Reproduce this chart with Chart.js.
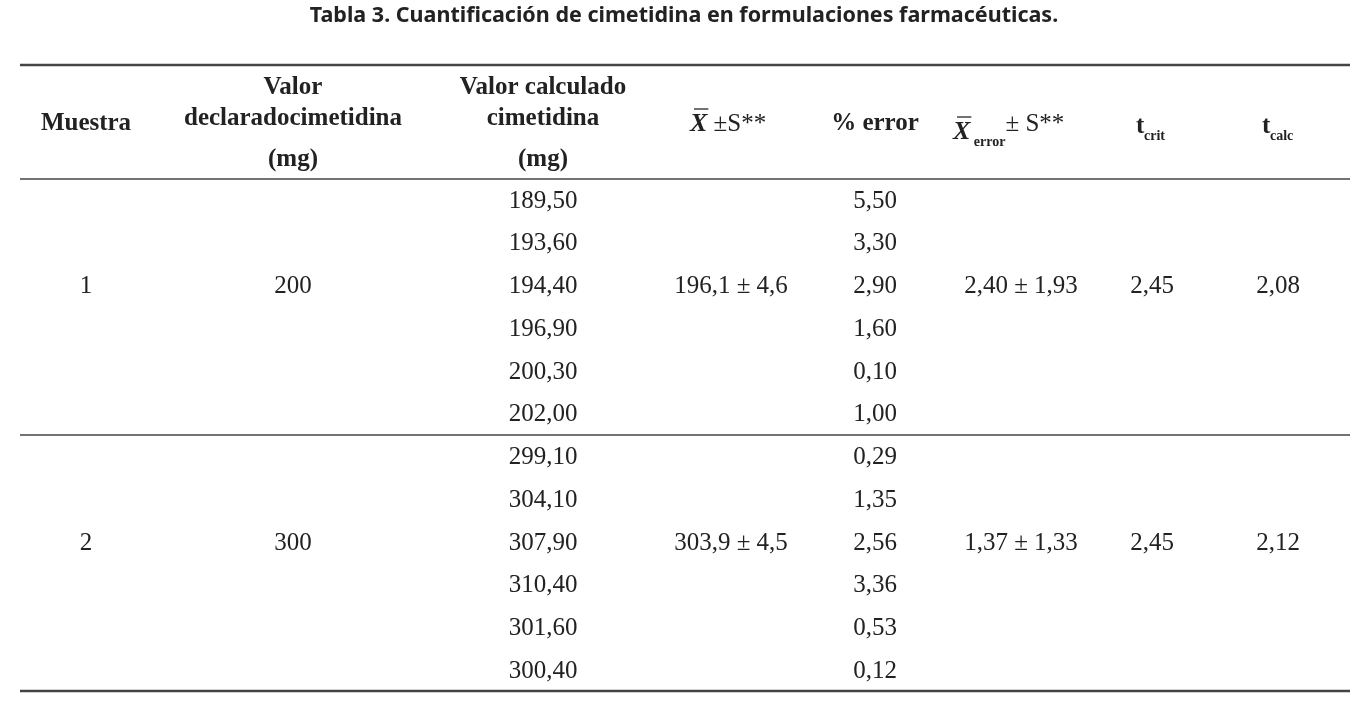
<!DOCTYPE html>
<html><head><meta charset="utf-8">
<script src="https://cdn.jsdelivr.net/npm/chart.js@4"></script>
<style>html,body{margin:0;background:#fff}#c{display:block}</style>
</head><body>
<canvas id="c" width="1364" height="719"></canvas>
<script>
const title = 'Tabla 3. Cuantificación de cimetidina en formulaciones farmacéuticas.';
const samples = ['1', '2'];
const declared = ['200', '300'];
const calculated = [
  ['189,50', '193,60', '194,40', '196,90', '200,30', '202,00'],
  ['299,10', '304,10', '307,90', '310,40', '301,60', '300,40']
];
const meanSd = ['196,1 ± 4,6', '303,9 ± 4,5'];
const pctError = [
  ['5,50', '3,30', '2,90', '1,60', '0,10', '1,00'],
  ['0,29', '1,35', '2,56', '3,36', '0,53', '0,12']
];
const errMeanSd = ['2,40 ± 1,93', '1,37 ± 1,33'];
const tCrit = ['2,45', '2,45'];
const tCalc = ['2,08', '2,12'];

// layout: column centres and row geometry in page pixels
const colX = [86, 293, 543, 731, 875, 1021, 1152, 1278];
const rowY0 = 201, rowStep = 42.75;
const serif = '"Liberation Serif", "DejaVu Serif", serif';
const ink = '#222';

const tablePlugin = {
  id: 'table',
  afterDraw(chart) {
    const ctx = chart.ctx, sx = chart.scales.x, sy = chart.scales.y;
    const X = v => sx.getPixelForValue(v), Y = v => sy.getPixelForValue(v);
    ctx.save();
    ctx.fillStyle = ink; ctx.textBaseline = 'middle'; ctx.textAlign = 'center';
    ctx.font = 'bold 21.5px "Noto Sans", sans-serif';
    ctx.fillText(title, X(684), Y(16));

    // rules
    ctx.strokeStyle = '#444';
    [[65, 2.5], [179, 1.5], [435, 1.5], [691, 2.5]].forEach(([y, w]) => {
      ctx.lineWidth = w; ctx.beginPath(); ctx.moveTo(X(20), Y(y)); ctx.lineTo(X(1350), Y(y)); ctx.stroke();
    });

    // header
    const bold = 'bold 25px ' + serif, reg = '25px ' + serif;
    ctx.font = bold;
    ctx.fillText('Muestra', X(colX[0]), Y(124));
    ctx.fillText('Valor', X(colX[1]), Y(88));
    ctx.fillText('declaradocimetidina', X(colX[1]), Y(119));
    ctx.fillText('(mg)', X(colX[1]), Y(160));
    ctx.fillText('Valor calculado', X(colX[2]), Y(88));
    ctx.fillText('cimetidina', X(colX[2]), Y(119));
    ctx.fillText('(mg)', X(colX[2]), Y(160));
    ctx.fillText('% error', X(colX[4]), Y(124));

    const xbar = (x, y) => {
      ctx.font = 'bold italic 26px ' + serif; ctx.textAlign = 'left';
      ctx.fillText('X', x, y);
      const w = ctx.measureText('X').width;
      ctx.lineWidth = 1.5; ctx.beginPath(); ctx.moveTo(x + 4, y - 15); ctx.lineTo(x + w + 1, y - 15); ctx.stroke();
      return x + w;
    };
    let x = xbar(X(690), Y(124));
    ctx.font = reg; ctx.fillText(' ±S**', x, Y(124));
    x = xbar(X(953), Y(132));
    ctx.font = 'bold 14px ' + serif; ctx.fillText(' error', x, Y(142));
    x += ctx.measureText(' error').width;
    ctx.font = reg; ctx.fillText('± S**', x, Y(124));
    const tsub = (cx, sub) => {
      ctx.font = bold; ctx.textAlign = 'left';
      ctx.fillText('t', X(cx) - 16, Y(127));
      ctx.font = 'bold 14px ' + serif; ctx.fillText(sub, X(cx) - 8, Y(136));
    };
    tsub(colX[6], 'crit'); tsub(colX[7], 'calc');

    // body
    ctx.font = reg; ctx.textAlign = 'center';
    samples.forEach((s, g) => {
      const mid = Y(rowY0 + (g * 6 + 2) * rowStep);
      ctx.fillText(s, X(colX[0]), mid);
      ctx.fillText(declared[g], X(colX[1]), mid);
      ctx.fillText(meanSd[g], X(colX[3]), mid);
      ctx.fillText(errMeanSd[g], X(colX[5]), mid);
      ctx.fillText(tCrit[g], X(colX[6]), mid);
      ctx.fillText(tCalc[g], X(colX[7]), mid);
      calculated[g].forEach((v, i) => {
        const y = Y(rowY0 + (g * 6 + i) * rowStep);
        ctx.fillText(v, X(colX[2]), y);
        ctx.fillText(pctError[g][i], X(colX[4]), y);
      });
    });
    ctx.restore();
  }
};

new Chart(document.getElementById('c'), {
  type: 'scatter',
  data: { datasets: [{ data: [] }] },
  options: {
    responsive: false, animation: false,
    layout: { padding: 0 },
    plugins: { legend: { display: false }, tooltip: { enabled: false } },
    scales: {
      x: { type: 'linear', min: 0, max: 1364, display: false },
      y: { type: 'linear', min: 0, max: 719, reverse: true, display: false }
    }
  },
  plugins: [tablePlugin]
});
</script>
</body></html>
